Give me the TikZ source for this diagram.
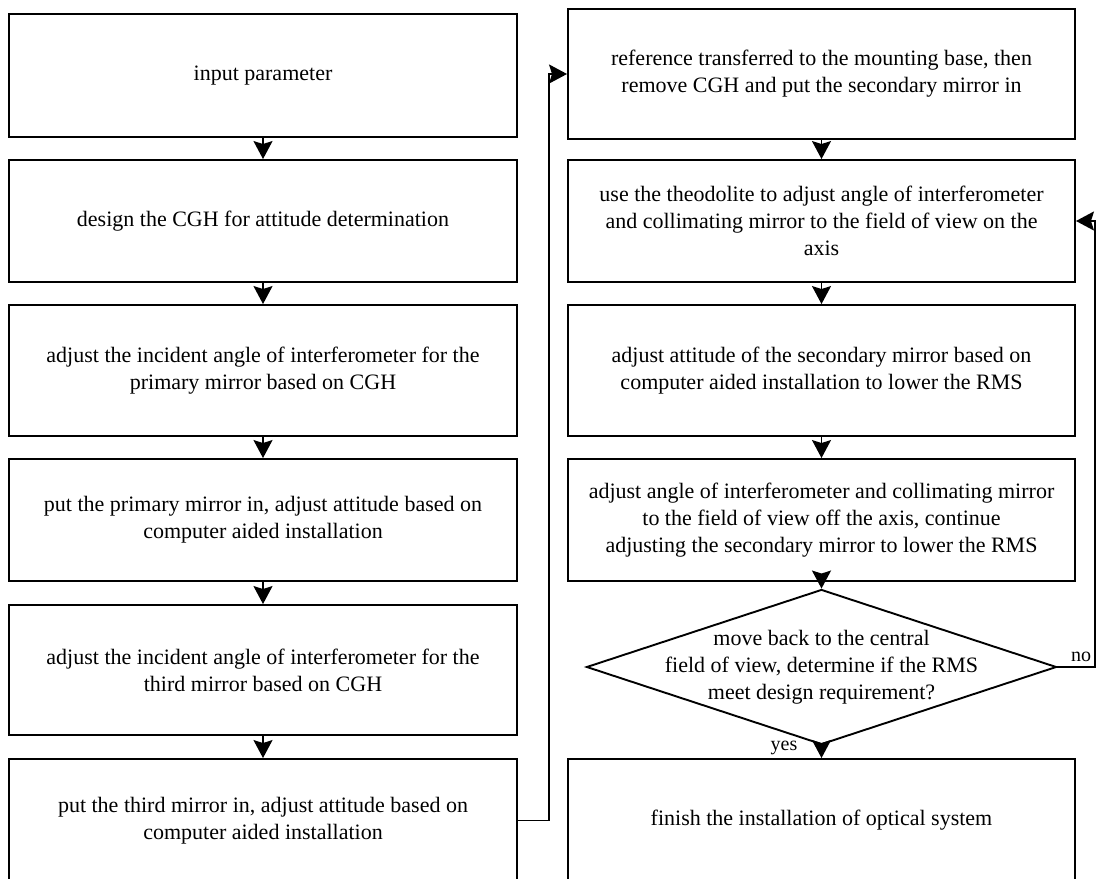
\documentclass[tikz,border=0pt]{standalone}
\usepackage{fontspec}
\setmainfont{Liberation Serif}
\usetikzlibrary{shapes.geometric,arrows.meta}
\begin{document}
\begin{tikzpicture}[x=1pt,y=-1pt,
  box/.style={draw, line width=1.9pt, rectangle, align=center, inner sep=2pt,
    font=\fontsize{22}{27}\selectfont},
  lbox/.style={box, minimum width=508pt},
  rbox/.style={box, minimum width=507pt},
  dia/.style={draw, line width=1.9pt, diamond, minimum width=470pt, minimum height=155pt, inner sep=0pt},
  dtext/.style={align=center, inner sep=0pt, font=\fontsize{22}{27}\selectfont},
  lab/.style={inner sep=0pt, font=\fontsize{20}{24}\selectfont},
  arr/.style={line width=1.9pt, -{Stealth[length=18pt,width=19pt,inset=3pt]}}]
\fill[white] (0,0) rectangle (1097,878);
\useasboundingbox (0,0) rectangle (1097,878);
\clip (0,0) rectangle (1097,878);
% left column
\node[lbox, minimum height=123pt] (L1) at (263,75.5) {input parameter};
\node[lbox, minimum height=122pt] (L2) at (263,221) {design the CGH for attitude determination};
\node[lbox, minimum height=131pt] (L3) at (263,370.5) {adjust the incident angle of interferometer for the\\primary mirror based on CGH};
\node[lbox, minimum height=122pt] (L4) at (263,520) {put the primary mirror in, adjust attitude based on\\computer aided installation};
\node[lbox, minimum height=130pt] (L5) at (263,670) {adjust the incident angle of interferometer for the\\third mirror based on CGH};
\node[lbox, minimum height=123pt] (L6) at (263,820.5) {put the third mirror in, adjust attitude based on\\computer aided installation};
% right column
\node[rbox, minimum height=130pt] (R1) at (821.5,74) {reference transferred to the mounting base, then\\remove CGH and put the secondary mirror in};
\node[rbox, minimum height=122pt] (R2) at (821.5,221) {use the theodolite to adjust angle of interferometer\\and collimating mirror to the field of view on the\\axis};
\node[rbox, minimum height=131pt] (R3) at (821.5,370.5) {adjust attitude of the secondary mirror based on\\computer aided installation to lower the RMS};
\node[rbox, minimum height=122pt] (R4) at (821.5,520) {adjust angle of interferometer and collimating mirror\\to the field of view off the axis, continue\\adjusting the secondary mirror to lower the RMS};
\node[dia] (D) at (821.5,667) {};
\node[dtext] (DT) at (D.center) {move back to the central\\field of view, determine if the RMS\\meet design requirement?};
\node[rbox, minimum height=123pt] (R5) at (821.5,820.5) {finish the installation of optical system};
% arrows
\draw[arr] (L1.south) -- (L2.north);
\draw[arr] (L2.south) -- (L3.north);
\draw[arr] (L3.south) -- (L4.north);
\draw[arr] (L4.south) -- (L5.north);
\draw[arr] (L5.south) -- (L6.north);
\draw[arr] (L6.east) -- ++(31,0) |- (R1.west);
\draw[arr] (R1.south) -- (R2.north);
\draw[arr] (R2.south) -- (R3.north);
\draw[arr] (R3.south) -- (R4.north);
\draw[arr] (R4.south) -- (D.north);
\draw[arr] (D.south) -- (R5.north);
\coordinate (fb) at (1095,667);
\draw[arr] (D.east) -- (fb) |- (R2.east);
\node[lab] (no) at (1081,657) {no};
\node[lab] (yes) at (784,748) {yes};
\end{tikzpicture}
\end{document}
